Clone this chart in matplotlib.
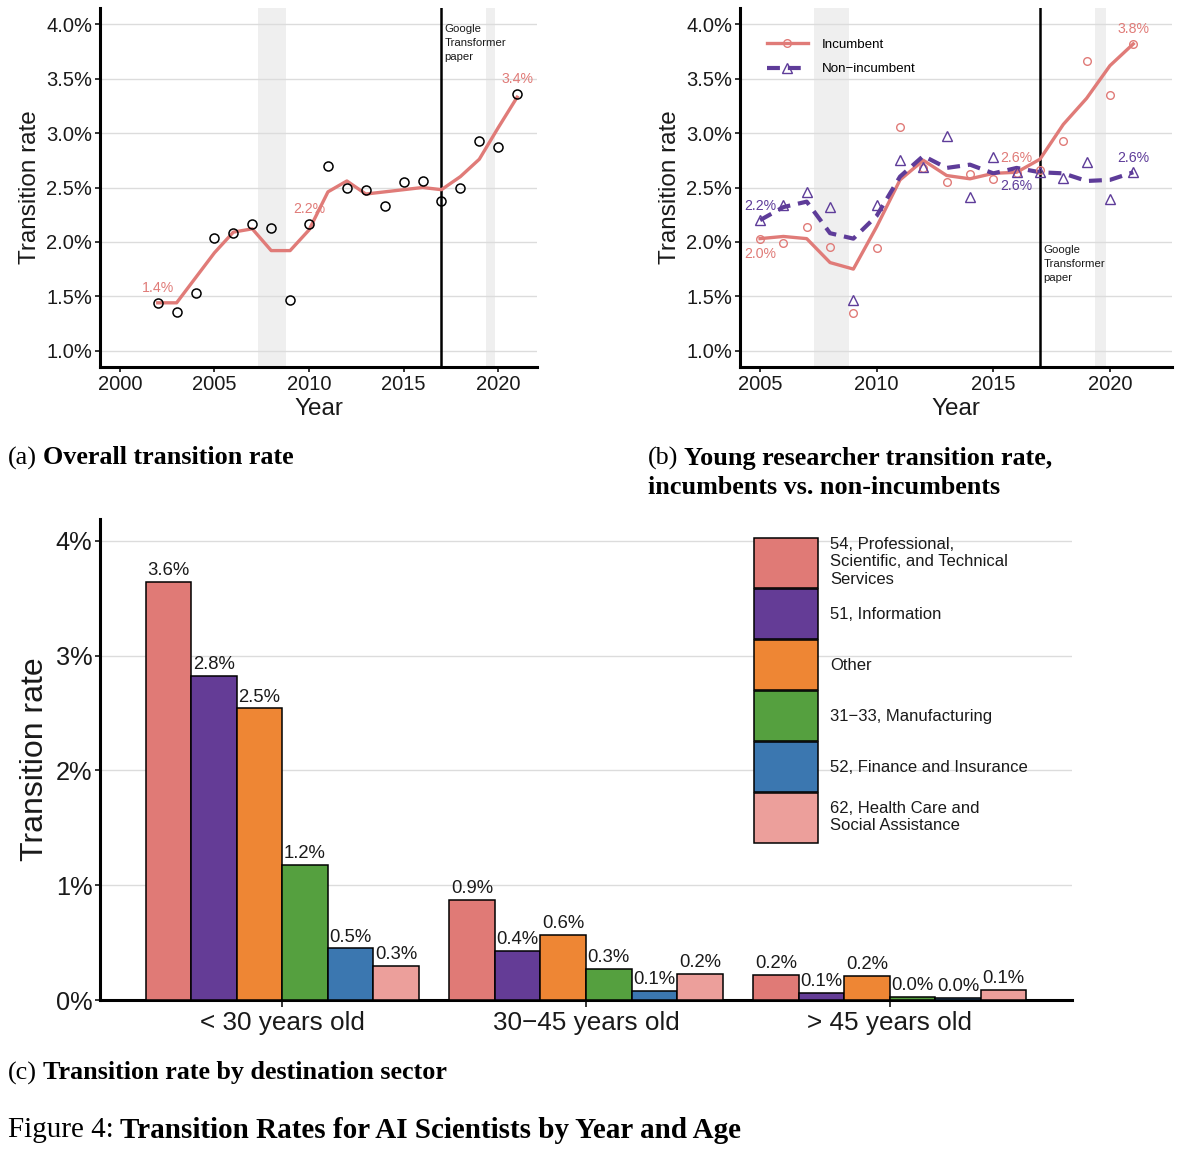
import matplotlib.pyplot as plt
import numpy as np
from matplotlib.lines import Line2D
from matplotlib.ticker import FuncFormatter

plt.rcParams['font.family'] = ['Liberation Sans', 'DejaVu Sans']

# ---- data: (a) overall transition rate (%) ----
years_a = np.arange(2002, 2022)
points_a = [1.44, 1.36, 1.53, 2.04, 2.08, 2.16, 2.13, 1.47, 2.16, 2.70,
            2.50, 2.48, 2.33, 2.55, 2.56, 2.38, 2.50, 2.93, 2.87, 3.36]
smooth_a = [1.44, 1.44, 1.67, 1.90, 2.09, 2.12, 1.92, 1.92, 2.11, 2.46,
            2.56, 2.44, 2.46, 2.48, 2.50, 2.48, 2.60, 2.76, 3.05, 3.33]
label_years_a = [2002, 2010, 2021]

# ---- data: (b) young researchers, incumbents vs non-incumbents (%) ----
years_b = np.arange(2005, 2022)
inc_points = [2.03, 1.99, 2.14, 1.95, 1.35, 1.94, 3.06, 2.68, 2.55, 2.62,
              2.58, 2.63, 2.66, 2.93, 3.66, 3.35, 3.82]
inc_smooth = [2.03, 2.05, 2.03, 1.81, 1.75, 2.14, 2.57, 2.75, 2.61, 2.58,
              2.63, 2.64, 2.76, 3.08, 3.32, 3.62, 3.82]
non_points = [2.20, 2.34, 2.46, 2.32, 1.47, 2.34, 2.75, 2.69, 2.97, 2.41,
              2.78, 2.64, 2.64, 2.59, 2.73, 2.39, 2.64]
non_smooth = [2.20, 2.32, 2.37, 2.08, 2.03, 2.24, 2.60, 2.79, 2.68, 2.71,
              2.63, 2.68, 2.64, 2.63, 2.56, 2.57, 2.64]
inc_label_years = [2005, 2016, 2021]
inc_label_side = [-1, 1, 1]
non_label_years = [2005, 2016, 2021]
non_label_side = [1, -1, 1]

shade_periods = [(2007.3, 2008.8), (2019.35, 2019.82)]
transformer_year = 2017

# ---- data: (c) transition rate by destination sector (%) ----
age_groups = ['< 30 years old', '30\u221245 years old', '> 45 years old']
sectors = ['54, Professional,\nScientific, and Technical\nServices',
           '51, Information',
           'Other',
           '31\u221233, Manufacturing',
           '52, Finance and Insurance',
           '62, Health Care and\nSocial Assistance']
sector_rates = [
    [3.64, 0.87, 0.22],
    [2.82, 0.43, 0.06],
    [2.54, 0.57, 0.21],
    [1.18, 0.27, 0.03],
    [0.45, 0.08, 0.02],
    [0.30, 0.23, 0.09],
]
sector_colors = ['#E07A76', '#643C96', '#EE8634', '#55A03F', '#3B77B0', '#EC9F9B']

PINK = '#E07B78'
PURPLE = '#5E3C99'
TXT = '#1a1a1a'

fig = plt.figure(figsize=(12, 11.57), dpi=100)
W, H = 1200, 1157
ax_a = fig.add_axes([100 / W, 1 - 367 / H, 437 / W, 359 / H])
ax_b = fig.add_axes([740 / W, 1 - 367 / H, 432 / W, 359 / H])
ax_c = fig.add_axes([100 / W, 1 - 1000 / H, 972 / W, 481 / H])


def style_axes(ax, tick_size):
    for s in ['top', 'right']:
        ax.spines[s].set_visible(False)
    for s in ['left', 'bottom']:
        ax.spines[s].set_linewidth(2.2)
        ax.spines[s].set_color('black')
    ax.tick_params(length=3.5, width=1.1, color='black', labelsize=tick_size,
                   labelcolor=TXT, pad=2)
    ax.grid(axis='y', color='#DCDCDC', linewidth=1.0)
    ax.set_axisbelow(True)


pct1 = FuncFormatter(lambda v, p: f"{v:.1f}%")

# ---------- panel (a) ----------
style_axes(ax_a, 14.5)
for s0, s1 in shade_periods:
    ax_a.axvspan(s0, s1, color='#EFEFEF', zorder=0.5, lw=0)
ax_a.axvline(transformer_year, color='black', lw=1.8, zorder=2)
ax_a.plot(years_a, smooth_a, color=PINK, lw=2.4, zorder=3)
ax_a.plot(years_a, points_a, 'o', mfc='none', mec='black', ms=6.5, mew=1.1, zorder=4)
for yr in label_years_a:
    v = points_a[list(years_a).index(yr)]
    ax_a.text(yr, v + 0.14, f"{v:.1f}%", color=PINK, fontsize=10.2,
              ha='center', va='center', zorder=2.5)
ax_a.text(transformer_year + 0.15, 4.0, 'Google\nTransformer\npaper', fontsize=8.2,
          ha='left', va='top', linespacing=1.5, color=TXT)
ax_a.set_xlim(1998.95, 2022.05)
ax_a.set_ylim(0.85, 4.15)
ax_a.set_xticks([2000, 2005, 2010, 2015, 2020])
ax_a.set_yticks(np.arange(1.0, 4.01, 0.5))
ax_a.yaxis.set_major_formatter(pct1)
ax_a.set_xlabel('Year', fontsize=17.5, color=TXT, labelpad=3)
ax_a.set_ylabel('Transition rate', fontsize=17.5, color=TXT, labelpad=4)

# ---------- panel (b) ----------
style_axes(ax_b, 14.5)
for s0, s1 in shade_periods:
    ax_b.axvspan(s0, s1, color='#EFEFEF', zorder=0.5, lw=0)
ax_b.axvline(transformer_year, color='black', lw=1.8, zorder=2)
ax_b.plot(years_b, inc_smooth, color=PINK, lw=2.4, zorder=3)
ax_b.plot(years_b, non_smooth, color=PURPLE, lw=3.0, dashes=(3.1, 1.9), zorder=3)
ax_b.plot(years_b, inc_points, 'o', mfc='none', mec=PINK, ms=5.5, mew=1.0, zorder=4)
ax_b.plot(years_b, non_points, '^', mfc='none', mec=PURPLE, ms=7.5, mew=1.0, zorder=4)
for yr, side in zip(inc_label_years, inc_label_side):
    v = inc_points[list(years_b).index(yr)]
    ax_b.text(yr, v + side * 0.14, f"{v:.1f}%", color=PINK, fontsize=10.2,
              ha='center', va='center', zorder=5)
for yr, side in zip(non_label_years, non_label_side):
    v = non_points[list(years_b).index(yr)]
    ax_b.text(yr, v + side * 0.13, f"{v:.1f}%", color=PURPLE, fontsize=10.2,
              ha='center', va='center', zorder=5)
ax_b.text(transformer_year + 0.15, 1.97, 'Google\nTransformer\npaper', fontsize=8.2,
          ha='left', va='top', linespacing=1.5, color=TXT)
ax_b.set_xlim(2004.14, 2022.66)
ax_b.set_ylim(0.85, 4.15)
ax_b.set_xticks([2005, 2010, 2015, 2020])
ax_b.set_yticks(np.arange(1.0, 4.01, 0.5))
ax_b.yaxis.set_major_formatter(pct1)
ax_b.set_xlabel('Year', fontsize=17.5, color=TXT, labelpad=3)
ax_b.set_ylabel('Transition rate', fontsize=17.5, color=TXT, labelpad=4)
handles_b = [
    Line2D([0], [0], color=PINK, lw=2.4, marker='o', mfc='none', mec=PINK, ms=5.5),
    Line2D([0], [0], color=PURPLE, lw=3.0, dashes=(3.1, 1.9), marker='^', mfc='none',
           mec=PURPLE, ms=7.5),
]
ax_b.legend(handles_b, ['Incumbent', 'Non\u2212incumbent'], loc='upper left',
            bbox_to_anchor=(0.062, 0.915), frameon=False, fontsize=9.6,
            handlelength=3.1, labelspacing=0.9, handletextpad=1.0,
            borderpad=0, borderaxespad=0)

# ---------- panel (c) ----------
style_axes(ax_c, 18.3)
ax_c.tick_params(axis='x', labelsize=18.8, length=5, pad=3)
x = np.arange(1, len(age_groups) + 1)
bw = 0.15
for i, (name, vals, col) in enumerate(zip(sectors, sector_rates, sector_colors)):
    bars = ax_c.bar(x + (i - 2.5) * bw, vals, width=bw, color=col,
                    edgecolor='black', linewidth=1.1, label=name, zorder=3)
    ax_c.bar_label(bars, labels=[f"{v:.1f}%" for v in vals], padding=2,
                   fontsize=13.3, color=TXT)
ax_c.set_xlim(0.4, 3.6)
ax_c.set_ylim(0, 4.19)
ax_c.set_xticks(x)
ax_c.set_xticklabels(age_groups)
ax_c.set_yticks([0, 1, 2, 3, 4])
ax_c.yaxis.set_major_formatter(FuncFormatter(lambda v, p: f"{v:.0f}%"))
ax_c.set_ylabel('Transition rate', fontsize=23, color=TXT, labelpad=4)
leg = ax_c.legend(loc='upper left', bbox_to_anchor=(0.673, 0.963), frameon=False,
                  fontsize=12, handlelength=3.84, handleheight=4.24,
                  labelspacing=0.06, handletextpad=0.7, borderpad=0, borderaxespad=0)
for t in leg.get_texts():
    t.set_linespacing(1.2)
    t.set_color(TXT)

# ---------- captions ----------
renderer = fig.canvas.get_renderer()
SERIF = ['Liberation Serif', 'DejaVu Serif']


def caption(px, py, plain, bold, size):
    t = fig.text(px / W, 1 - py / H, plain, fontsize=size, family=SERIF,
                 va='center', ha='left', color='black')
    bb = t.get_window_extent(renderer)
    fig.text(bb.x1 / W + 0.005, 1 - py / H, bold, fontsize=size, family=SERIF,
             fontweight='bold', va='center', ha='left', color='black')


caption(8, 458, '(a)', 'Overall transition rate', 18.8)
caption(648, 458, '(b)', 'Young researcher transition rate,', 18.8)
fig.text(648 / W, 1 - 488 / H, 'incumbents vs. non-incumbents', fontsize=18.8,
         family=SERIF, fontweight='bold', va='center', ha='left')
caption(8, 1073, '(c)', 'Transition rate by destination sector', 18.8)
caption(8, 1130, 'Figure 4:', 'Transition Rates for AI Scientists by Year and Age', 21)

fig.savefig('out.png', dpi=100)
